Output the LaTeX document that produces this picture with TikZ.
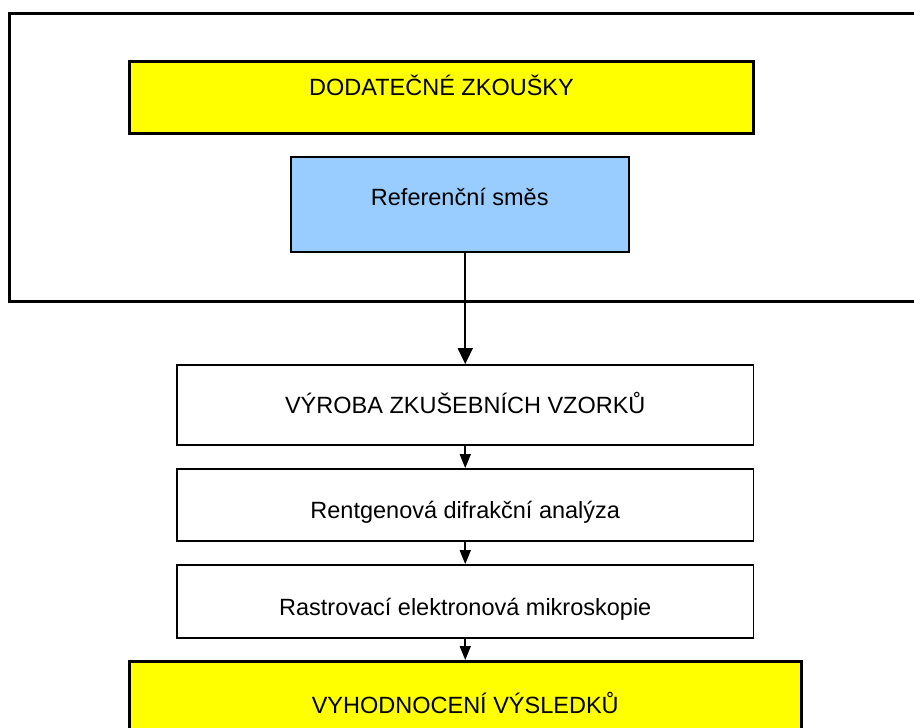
\documentclass[tikz,border=0pt]{standalone}
\usepackage{fontspec}
\setmainfont{Liberation Sans}
\usetikzlibrary{arrows.meta}
\definecolor{boxyellow}{HTML}{FFFF00}
\definecolor{boxblue}{HTML}{99CCFF}
\tikzset{
  basebox/.style={rectangle, draw=black, inner sep=0pt, align=center,
    font=\fontsize{23.5}{28}\selectfont},
  yellowbox/.style={basebox, fill=boxyellow, line width=3pt},
  bluebox/.style={basebox, fill=boxblue, line width=2pt},
  whitebox/.style={basebox, fill=white, line width=1.8pt},
  bigarrow/.style={line width=1.6pt, -{Triangle[length=16pt,width=15pt]}},
  smallarrow/.style={line width=1.6pt, -{Triangle[length=14pt,width=11pt]}},
  frame/.style={draw=black, line width=3pt}
}
\begin{document}
\begin{tikzpicture}[x=1pt,y=-1pt]
\useasboundingbox (0,0) rectangle (914,728);
\clip (0,0) rectangle (914,728);
\fill[white] (0,0) rectangle (914,728);
% outer frame
\coordinate (frameNW) at (9.5,13);
\coordinate (frameSE) at (940,301);
\draw[frame] (frameNW) rectangle (frameSE);
% boxes
\node[yellowbox, minimum width=624pt, minimum height=71.5pt, text height=17pt, text depth=20.8pt]
  (dod) at (441.5,97.25) {DODATEČNÉ ZKOUŠKY};
\node[bluebox, minimum width=337.5pt, minimum height=95pt, text height=17pt, text depth=15.6pt]
  (ref) at (459.75,204.5) {Referenční směs};
\node[whitebox, minimum width=576.5pt, minimum height=80pt, text height=17pt, text depth=0.2pt]
  (vyr) at (465.25,405) {VÝROBA ZKUŠEBNÍCH VZORKŮ};
\node[whitebox, minimum width=576.5pt, minimum height=72pt, text height=28pt, text depth=0.2pt]
  (rtg) at (465.25,505) {Rentgenová difrakční analýza};
\node[whitebox, minimum width=576.5pt, minimum height=73pt, text height=29pt, text depth=0.2pt]
  (rem) at (465.25,601.5) {Rastrovací elektronová mikroskopie};
\node[yellowbox, minimum width=671.5pt, minimum height=88.5pt, text height=17pt, text depth=2pt]
  (vyh) at (465.25,705.75) {VYHODNOCENÍ VÝSLEDKŮ};
% connectors
\draw[bigarrow] (vyr.north |- ref.south) -- (vyr.north);
\draw[smallarrow] (vyr.south) -- (rtg.north);
\draw[smallarrow] (rtg.south) -- (rem.north);
\draw[smallarrow] (rem.south) -- (vyh.north);
\end{tikzpicture}
\end{document}
